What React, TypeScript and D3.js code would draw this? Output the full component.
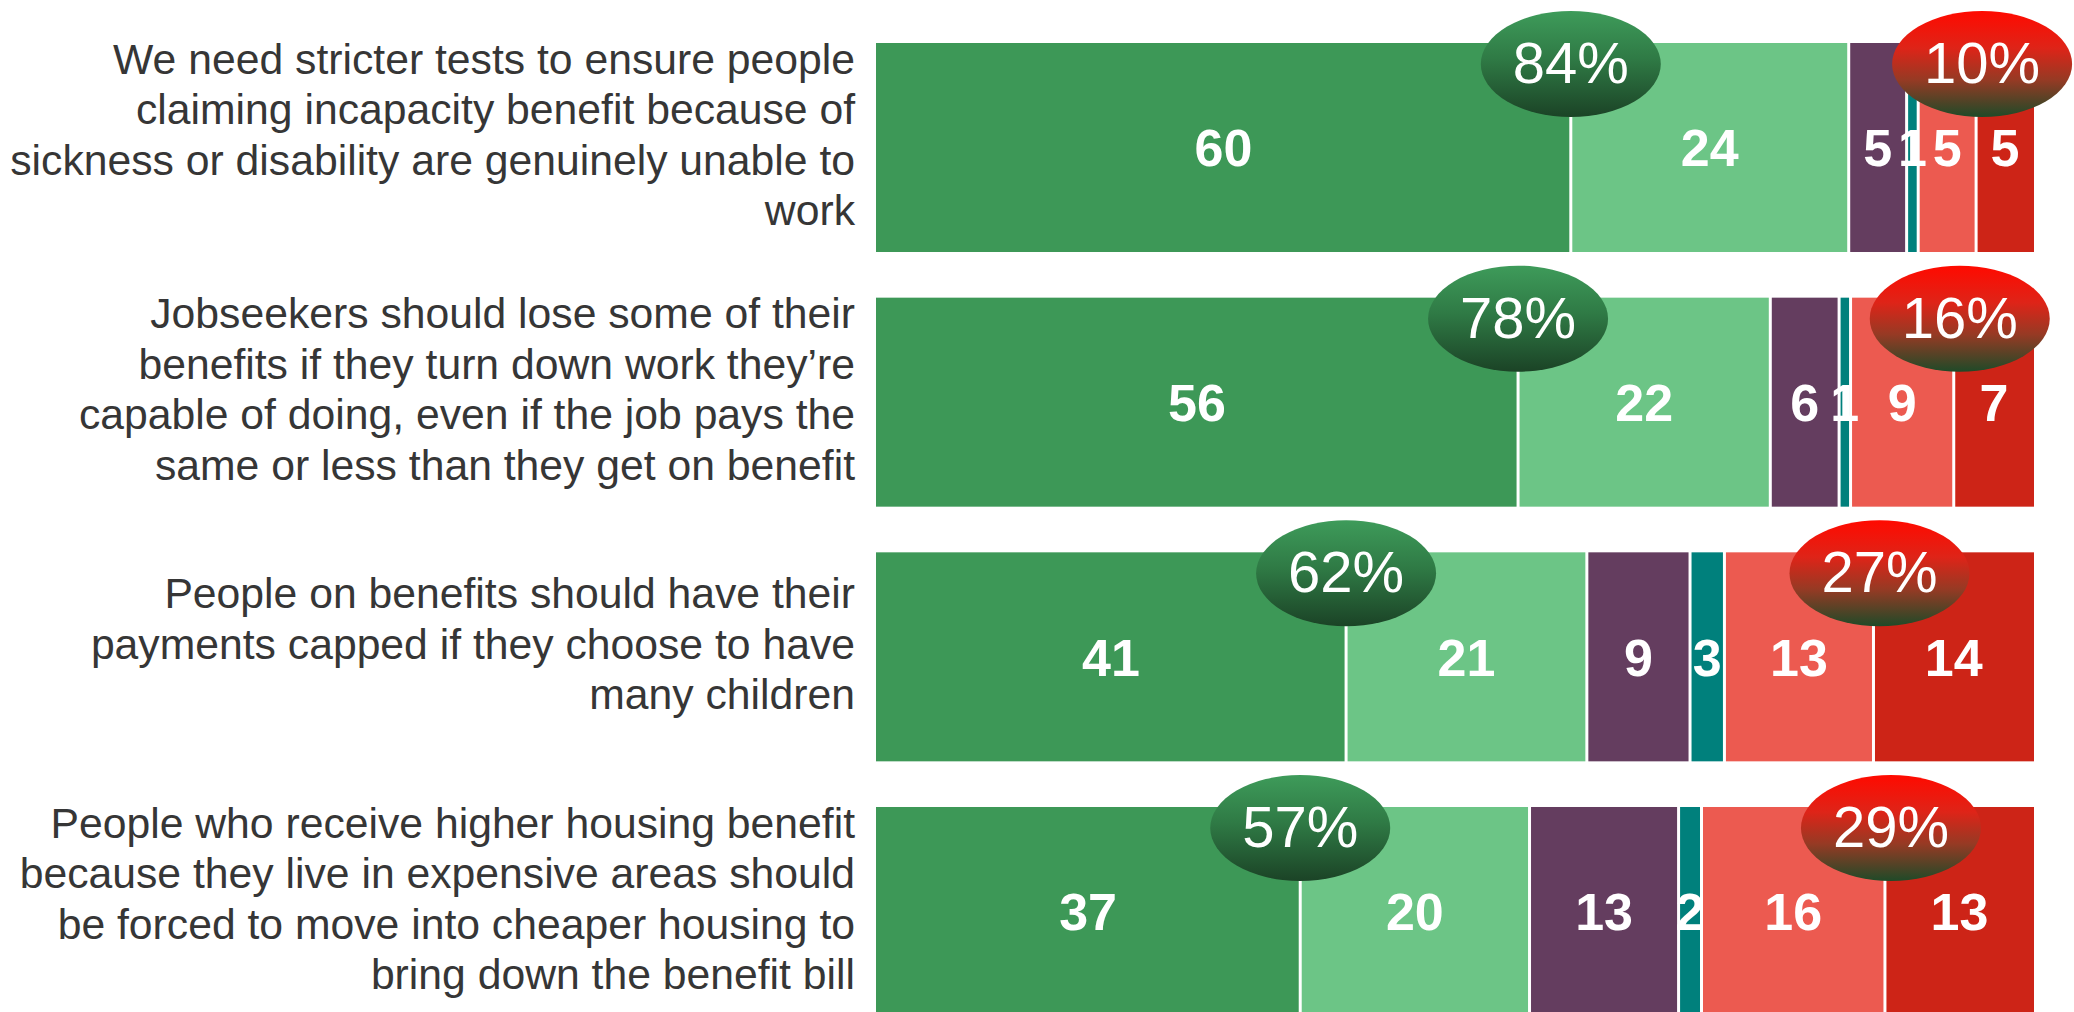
import React from "react";
import * as d3 from "d3";

const statements: string[][] = [
  ["We need stricter tests to ensure people", "claiming incapacity benefit because of", "sickness or disability are genuinely unable to", "work"],
  ["Jobseekers should lose some of their", "benefits if they turn down work they\u2019re", "capable of doing, even if the job pays the", "same or less than they get on benefit"],
  ["People on benefits should have their", "payments capped if they choose to have", "many children"],
  ["People who receive higher housing benefit", "because they live in expensive areas should", "be forced to move into cheaper housing to", "bring down the benefit bill"],
];

const seriesNames = ["Strongly agree", "Tend to agree", "Neither", "Don't know", "Tend to disagree", "Strongly disagree"];
const stronglyAgree = [60, 56, 41, 37];
const tendToAgree = [24, 22, 21, 20];
const neither = [5, 6, 9, 13];
const dontKnow = [1, 1, 3, 2];
const tendToDisagree = [5, 9, 13, 16];
const stronglyDisagree = [5, 7, 14, 13];

const seriesColors = ["#3d9857", "#6cc586", "#643d5f", "#00807c", "#ec5a50", "#cd2417"];

const W = 2074;
const H = 1012;
const FONT = "'Liberation Sans', Arial, Helvetica, sans-serif";

export default function App() {
  const series = [stronglyAgree, tendToAgree, neither, dontKnow, tendToDisagree, stronglyDisagree];
  const rows = statements.map((_, i) => series.map((s) => s[i]));

  const y = d3
    .scaleBand<number>()
    .domain(d3.range(rows.length))
    .range([43, 1016])
    .paddingInner(0.1793)
    .paddingOuter(0);
  const bw = y.bandwidth();
  const x0 = 876;
  const x1 = 2034;
  const labelRight = 855;
  const lh = 50.5;
  const gap = 3;

  return (
    <svg
      width={W}
      height={H}
      style={{ position: "absolute", left: 0, top: 0, display: "block", background: "#fff" }}
      fontFamily={FONT}
    >
      <defs>
        <linearGradient id="gGreen" x1="0" y1="0" x2="0" y2="1">
          <stop offset="0%" stopColor="#3e9b5a" />
          <stop offset="45%" stopColor="#2f7a45" />
          <stop offset="100%" stopColor="#1b4326" />
        </linearGradient>
        <linearGradient id="gRed" x1="0" y1="0" x2="0" y2="1">
          <stop offset="0%" stopColor="#ff0a00" />
          <stop offset="35%" stopColor="#de2418" />
          <stop offset="65%" stopColor="#963a24" />
          <stop offset="100%" stopColor="#1f4a28" />
        </linearGradient>
      </defs>
      {rows.map((vals, i) => {
        const total = d3.sum(vals);
        const x = d3.scaleLinear().domain([0, total]).range([x0, x1]);
        const cum = d3.cumsum(vals);
        const starts = vals.map((v, j) => cum[j] - v);
        const top = y(i) as number;
        const cy = top + bw / 2;
        const lines = statements[i];
        const firstBase = cy - ((lines.length - 1) * lh) / 2 + 2;
        const agree = vals[0] + vals[1];
        const disagree = vals[4] + vals[5];
        const gx = x(vals[0]);
        const rx = x(total - vals[5]) + 6;
        const ecy = top + 21;
        return (
          <g key={i}>
            {lines.map((t, k) => (
              <text
                key={k}
                x={labelRight}
                y={firstBase + k * lh}
                textAnchor="end"
                fontSize={42.7}
                fill="#363636"
              >
                {t}
              </text>
            ))}
            {vals.map((v, j) => (
              <rect
                key={j}
                x={x(starts[j]) + (j === 0 ? 0 : gap / 2)}
                y={top}
                width={Math.max(0, x(starts[j] + v) - x(starts[j]) - (j === 0 || j === vals.length - 1 ? gap / 2 : gap))}
                height={bw}
                fill={seriesColors[j]}
              >
                <title>{`${seriesNames[j]}: ${v}`}</title>
              </rect>
            ))}
            {vals.map((v, j) => (
              <text
                key={"l" + j}
                x={x(starts[j] + v / 2)}
                y={cy}
                dy="0.36em"
                textAnchor="middle"
                fontSize={52}
                fontWeight="bold"
                fill="#fff"
              >
                {v}
              </text>
            ))}
            <ellipse cx={gx} cy={ecy} rx={90} ry={53} fill="url(#gGreen)" />
            <text x={gx} y={ecy} dy="0.33em" textAnchor="middle" fontSize={58} fill="#fff">
              {agree + "%"}
            </text>
            <ellipse cx={rx} cy={ecy} rx={90} ry={53} fill="url(#gRed)" />
            <text x={rx} y={ecy} dy="0.33em" textAnchor="middle" fontSize={58} fill="#fff">
              {disagree + "%"}
            </text>
          </g>
        );
      })}
    </svg>
  );
}
